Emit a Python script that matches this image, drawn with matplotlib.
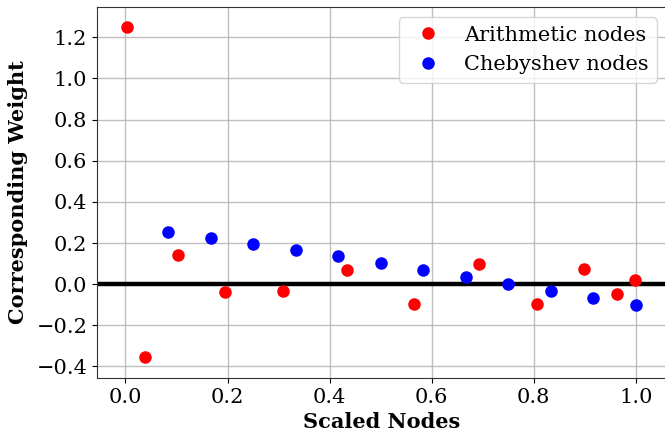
import matplotlib
matplotlib.use("Agg")
import matplotlib.pyplot as plt

arith_x = [0.004, 0.038, 0.103, 0.195, 0.309, 0.435, 0.566, 0.692, 0.806, 0.899, 0.963, 0.998]
arith_w = [1.252, -0.355, 0.144, -0.037, -0.031, 0.070, -0.094, 0.099, -0.094, 0.073, -0.050, 0.018]

cheb_x = [1/12, 2/12, 3/12, 4/12, 5/12, 6/12, 7/12, 8/12, 9/12, 10/12, 11/12, 12/12]
cheb_w = [0.253, 0.225, 0.196, 0.165, 0.135, 0.102, 0.070, 0.036, 0.000, -0.033, -0.065, -0.099]

plt.rcParams['font.family'] = ['DejaVu Serif']
plt.rcParams['font.size'] = 15

fig = plt.figure(figsize=(6.65, 4.34), dpi=100)
ax = fig.add_axes([97/665, 1 - 378/434, (667 - 97)/665, (378 - 7)/434])

ax.grid(True, color='#b0b0b0', linewidth=1.0, alpha=0.8, zorder=0)
ax.axhline(0, color='black', linewidth=3.2, zorder=2)
ax.plot(arith_x, arith_w, 'o', color='red', markersize=8, label='Arithmetic nodes', zorder=3)
ax.plot(cheb_x, cheb_w, 'o', color='blue', markersize=8, label='Chebyshev nodes', zorder=3)

ax.set_xlim(-0.0557, 1.061)
ax.set_ylim(-0.456, 1.347)
ax.set_xticks([0.0, 0.2, 0.4, 0.6, 0.8, 1.0])
ax.set_yticks([-0.4, -0.2, 0.0, 0.2, 0.4, 0.6, 0.8, 1.0, 1.2])
ax.tick_params(labelsize=15)
ax.set_xlabel('Scaled Nodes', fontsize=15, fontweight='bold')
ax.set_ylabel('Corresponding Weight', fontsize=15, fontweight='bold', labelpad=6)
for s in ax.spines.values():
    s.set_color('#333333')

ax.legend(loc='upper right', fontsize=15, bbox_to_anchor=(1.0, 1.0),
          handletextpad=0.7, handlelength=2.0)

fig.savefig('out.png', dpi=100)
